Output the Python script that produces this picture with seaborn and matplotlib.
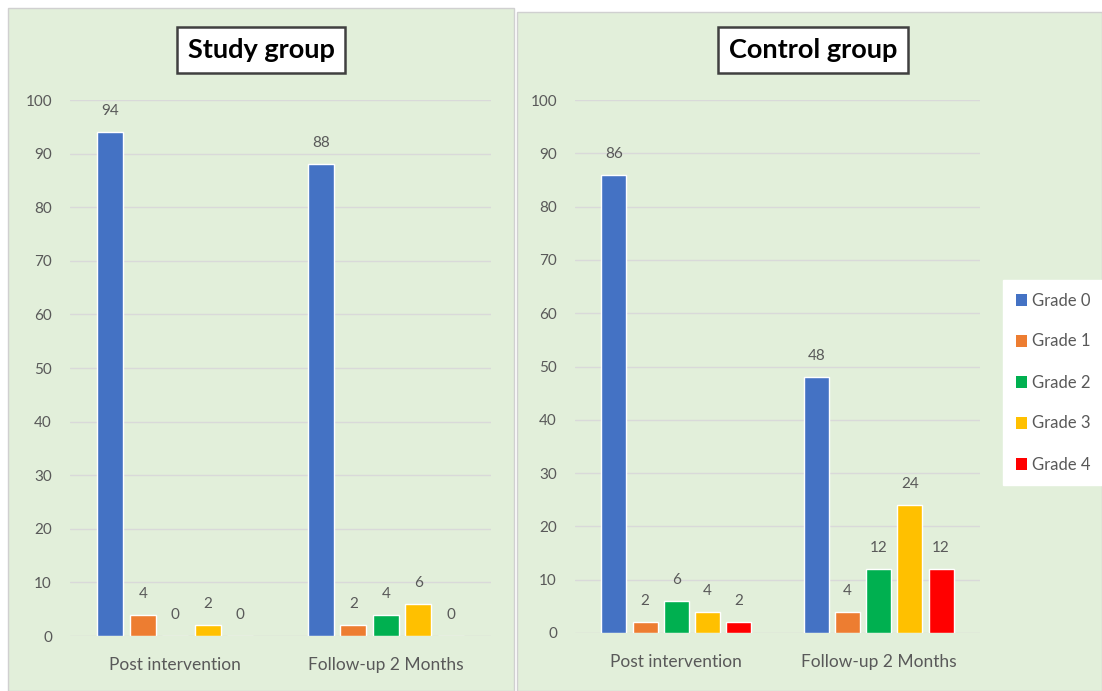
import matplotlib
matplotlib.use("Agg")
import matplotlib.pyplot as plt
from matplotlib.patches import Rectangle, Patch
import seaborn as sns
import pandas as pd

# ---- data ----
times = ["Post intervention", "Follow-up 2 Months"]
grades = ["Grade 0", "Grade 1", "Grade 2", "Grade 3", "Grade 4"]
study_post = [94, 4, 0, 2, 0]
study_follow = [88, 2, 4, 6, 0]
control_post = [86, 2, 6, 4, 2]
control_follow = [48, 4, 12, 24, 12]
panel_titles = ["Study group", "Control group"]
yticks = [0, 10, 20, 30, 40, 50, 60, 70, 80, 90, 100]
colors = ["#4472C4", "#ED7D31", "#00B050", "#FFC000", "#FF0000"]

def make_df(post, follow):
    rows = []
    for t, vals in zip(times, [post, follow]):
        for g, v in zip(grades, vals):
            rows.append({"Time": t, "Grade": g, "Value": v})
    return pd.DataFrame(rows)

sns.set_theme(style="white")
plt.rcParams["font.family"] = ["Lato", "DejaVu Sans"]

W, H = 1102, 691
fig = plt.figure(figsize=(W / 100, H / 100), dpi=100)
fig.patch.set_facecolor("white")

bg = "#E2EFDA"
# panel backgrounds
for (x0, y0, x1, y1) in [(8, 8, 514, 691), (517, 12, 1102, 691)]:
    fig.patches.append(Rectangle((x0 / W, 1 - y1 / H), (x1 - x0) / W, (y1 - y0) / H,
                                 transform=fig.transFigure, facecolor=bg,
                                 edgecolor="#d0d0d0", linewidth=1.0, zorder=-10))

axes_pos = [
    (70 / W, 1 - 636 / H, 421 / W, 536 / H),
    (575 / W, 1 - 633 / H, 405 / W, 533 / H),
]
dfs = [make_df(study_post, study_follow), make_df(control_post, control_follow)]
text_col = "#595959"

for pos, df in zip(axes_pos, dfs):
    ax = fig.add_axes(pos)
    ax.set_zorder(1)
    ax.patch.set_alpha(0)
    sns.barplot(data=df, x="Time", y="Value", hue="Grade", hue_order=grades,
                palette=colors, width=0.77, gap=0.2, saturation=1,
                legend=False, ax=ax, zorder=3)
    for cont in ax.containers:
        ax.bar_label(cont, fmt="%d", padding=10, fontsize=11, color=text_col)
    ax.set_ylim(0, 100)
    ax.set_xlim(-0.5, 1.5)
    ax.set_yticks(yticks)
    ax.yaxis.grid(True, color="#d9d9d9", linewidth=1.0, zorder=0)
    ax.set_axisbelow(True)
    for s in ax.spines.values():
        s.set_visible(False)
    ax.set_xlabel("")
    ax.set_ylabel("")
    ax.tick_params(axis="y", length=0, pad=13, labelsize=11, labelcolor=text_col)
    ax.tick_params(axis="x", length=0, pad=15, labelsize=12.5, labelcolor=text_col)

# title boxes
for title, cx in zip(panel_titles, [261, 813]):
    fig.text(cx / W, 1 - 50 / H, title, ha="center", va="center",
             fontsize=19.5, fontweight="bold", color="black", zorder=5,
             bbox=dict(boxstyle="square,pad=0.4", facecolor="white",
                       edgecolor="#404040", linewidth=1.8))

# legend
handles = [Patch(facecolor=c, edgecolor="none") for c in colors]
leg = fig.legend(handles, grades, loc="upper left",
                 bbox_to_anchor=(1003 / W, 1 - 280 / H),
                 frameon=True, facecolor="white", edgecolor="white",
                 fancybox=False, framealpha=1, fontsize=12,
                 labelspacing=1.5, handlelength=0.7, handleheight=0.7,
                 handletextpad=0.3, borderpad=0.75, borderaxespad=0)
leg.set_zorder(5)
for t in leg.get_texts():
    t.set_color(text_col)

fig.savefig("out.png", dpi=100, facecolor="white")
